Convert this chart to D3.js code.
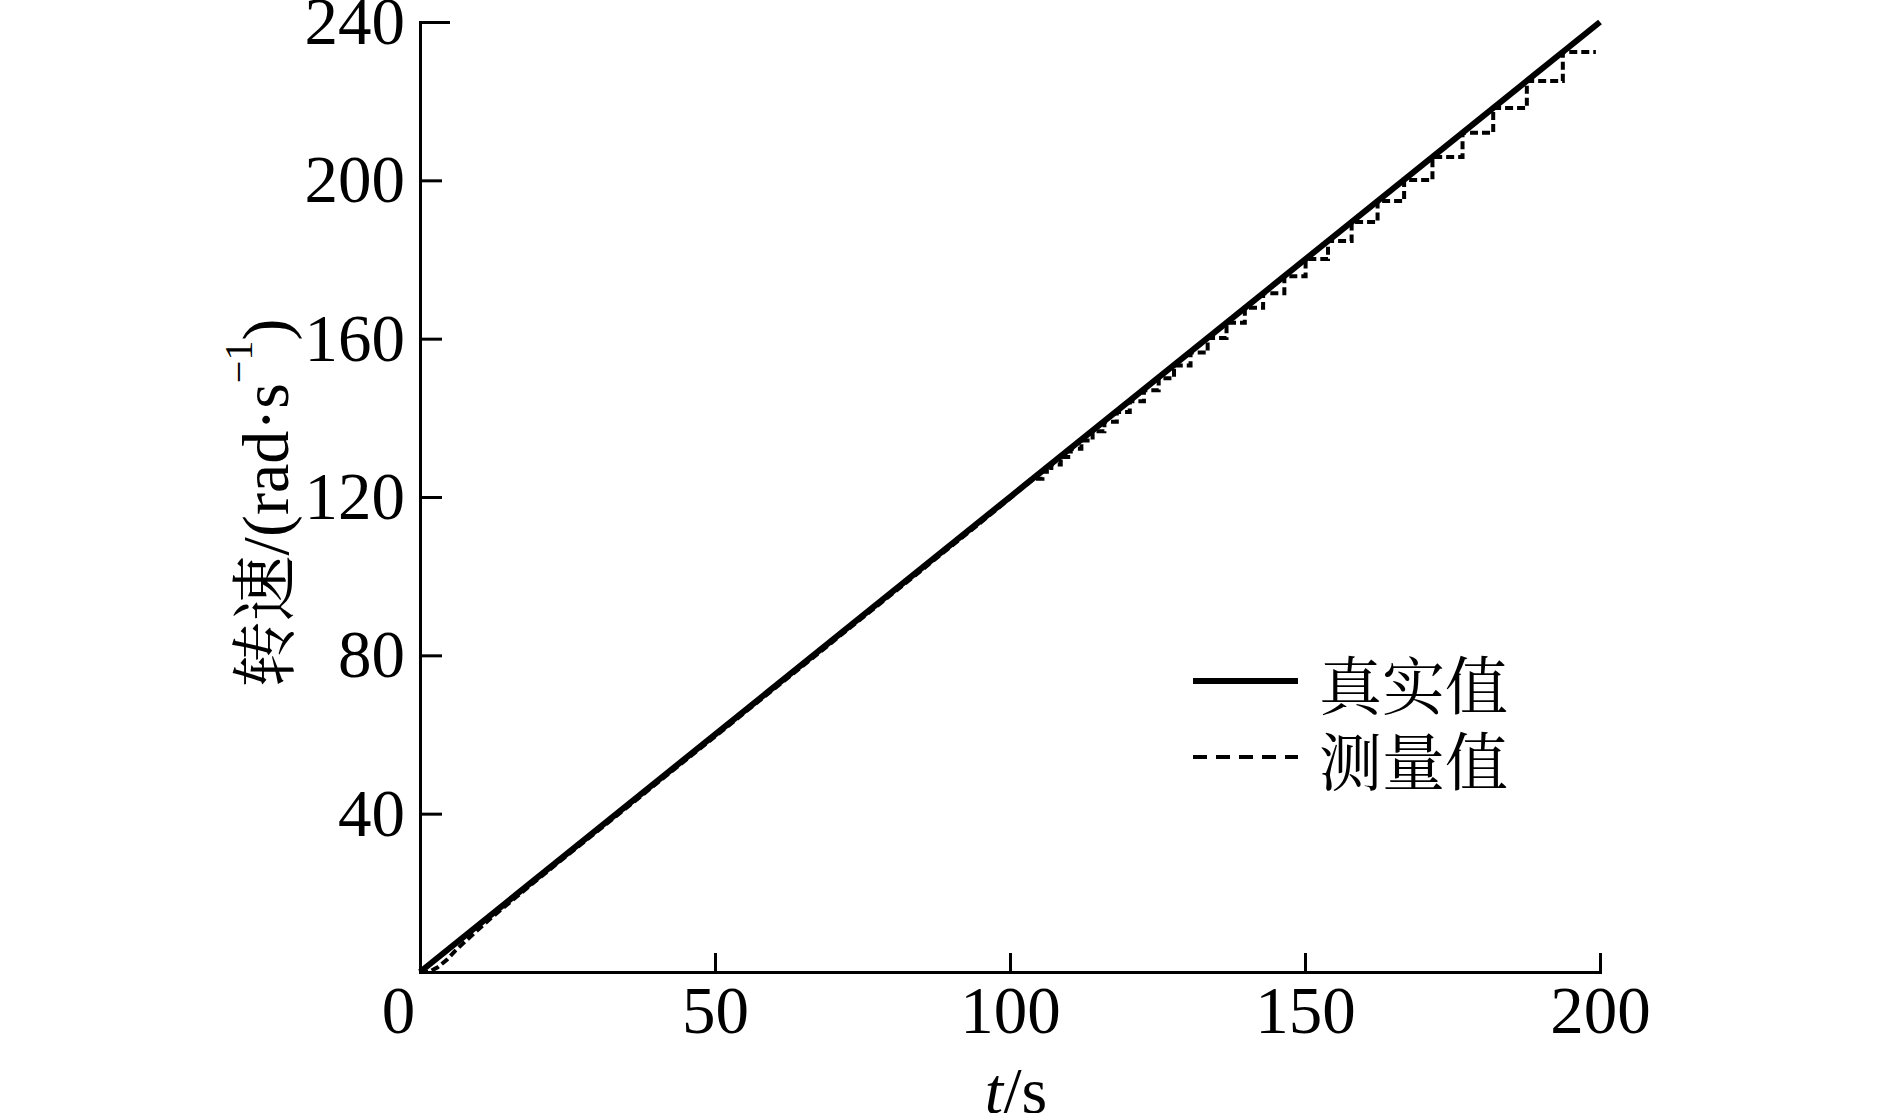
<!DOCTYPE html>
<html>
<head>
<meta charset="utf-8">
<script src="https://cdn.jsdelivr.net/npm/d3@7"></script>
<style>
body{margin:0;background:#fff;}
svg{display:block;background:#fff;}
text{font-family:"Liberation Serif","Times New Roman",serif;fill:#000;}
.cjk{font-family:"Noto Serif CJK SC","Noto Sans CJK SC",serif;}
</style>
</head>
<body>
<svg id="chart" width="1889" height="1113"></svg>
<script>
var xTicks = [0, 50, 100, 150, 200];
var yTicks = [40, 80, 120, 160, 200, 240];
var seriesNames = ["真实值", "测量值"];

// true speed
var trueT = [0, 200];
var trueV = [0, 240];

// measured speed while it still follows the true one
var trackT = [0, 1.5, 3, 4.5, 6, 8, 12, 20, 40, 60, 80, 95];
var trackV = [0, 0, 1.2, 3.0, 5.4, 8.2, 13.6, 23.5, 47.5, 71.5, 95.5, 113.5];

// measured speed, sampled and held (sample time, reading)
var sampleT = [104.0, 105.5, 107.0, 108.6, 110.3, 112.1, 114.0, 116.0, 118.1, 120.3, 122.7, 125.2, 127.8, 130.6,
               133.5, 136.7, 139.8, 142.9, 146.5, 150.1, 153.9, 157.9, 162.3, 166.8, 171.6, 176.7, 181.9, 187.6, 193.7];
var sampleV = [124.6, 126.4, 128.2, 130.1, 132.2, 134.3, 136.6, 139.0, 141.5, 144.2, 147.0, 150.0, 153.2, 156.5,
               160.2, 164.0, 167.8, 171.5, 175.8, 180.1, 184.7, 189.5, 194.8, 200.1, 205.9, 212.0, 218.3, 225.1, 232.4];
var endT = 199.3;

var svg = d3.select("#chart");

var x = d3.scaleLinear().domain([0, 200]).range([420, 1600]);
var y = d3.scaleLinear().domain([0, 240]).range([972, 22]);

var line = d3.line().x(d => x(d[0])).y(d => y(d[1]));

// measured: tracking part, then the held steps
var meas = trackT.map((t, i) => [t, trackV[i]]);
sampleT.forEach(function(t, i){
  var next = i < sampleT.length - 1 ? sampleT[i + 1] : endT;
  meas.push([t, sampleV[i]]);
  meas.push([next, sampleV[i]]);
});
var truth = trueT.map((t, i) => [t, trueV[i]]);

svg.append("path")
  .attr("d", line(meas))
  .attr("fill", "none")
  .attr("stroke", "#000")
  .attr("stroke-width", 4)
  .attr("stroke-dasharray", "8,4");

svg.append("path")
  .attr("d", line(truth))
  .attr("fill", "none")
  .attr("stroke", "#000")
  .attr("stroke-width", 6);

// axes
var gx = svg.append("g")
  .attr("transform", "translate(0," + y(0) + ")")
  .call(d3.axisBottom(x).tickValues(xTicks).tickSize(-19).tickSizeOuter(0).tickPadding(13));

var gy = svg.append("g")
  .attr("transform", "translate(" + x(0) + ",0)")
  .call(d3.axisLeft(y).tickValues(yTicks).tickSize(-22).tickSizeOuter(0).tickPadding(15));

[gx, gy].forEach(function(g){
  g.attr("font-family", null).attr("font-size", null);
  g.select(".domain").attr("stroke-width", 3).attr("stroke-linecap", "square");
  g.selectAll(".tick line").attr("stroke-width", 3);
  g.selectAll(".tick text").attr("font-size", 67);
});
gx.selectAll(".tick text").filter(d => d === 0).attr("x", -22);
gy.selectAll(".tick line").filter(d => d === 240).attr("x2", 30);

// y label
var yl = svg.append("text")
  .attr("transform", "translate(288,503) rotate(-90)")
  .attr("text-anchor", "middle")
  .attr("font-size", 66);
yl.append("tspan").attr("class", "cjk").text("转速");
yl.append("tspan").text("/(rad·s");
yl.append("tspan").attr("font-size", 40).attr("dy", -36).text("−1");
yl.append("tspan").attr("dy", 36).text(")");

// x label
var xl = svg.append("text")
  .attr("x", 1016)
  .attr("y", 1113)
  .attr("text-anchor", "middle")
  .attr("font-size", 66);
xl.append("tspan").attr("font-style", "italic").text("t");
xl.append("tspan").text("/s");

// legend
var legend = svg.append("g");
var rows = [{y: 681, dash: null, w: 6}, {y: 757, dash: "14,9", w: 4}];
rows.forEach(function(r, i){
  legend.append("line")
    .attr("x1", 1193).attr("x2", 1298)
    .attr("y1", r.y).attr("y2", r.y)
    .attr("stroke", "#000")
    .attr("stroke-width", r.w)
    .attr("stroke-dasharray", r.dash);
  legend.append("text")
    .attr("class", "cjk")
    .attr("x", 1319)
    .attr("y", r.y)
    .attr("dominant-baseline", "central")
    .attr("font-size", 63)
    .text(seriesNames[i]);
});
</script>
</body>
</html>
